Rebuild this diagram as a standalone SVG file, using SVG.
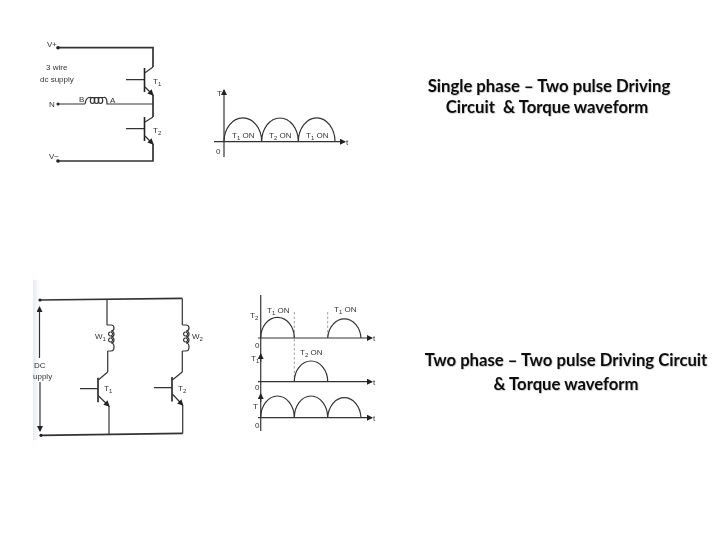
<svg xmlns="http://www.w3.org/2000/svg" width="720" height="540" viewBox="0 0 720 540">
<defs>
<filter id="soft" x="-5%" y="-5%" width="110%" height="110%"><feGaussianBlur stdDeviation="0.35"/></filter>
<filter id="shadow" x="-5%" y="-20%" width="110%" height="140%"><feDropShadow dx="0.6" dy="0.6" stdDeviation="0.6" flood-color="#000" flood-opacity="0.3"/></filter>
<linearGradient id="band" x1="0" x2="1" y1="0" y2="0"><stop offset="0" stop-color="#e6ebf1"/><stop offset="1" stop-color="#fff"/></linearGradient>
<marker id="ah" markerWidth="7" markerHeight="6" refX="5" refY="3" orient="auto" markerUnits="userSpaceOnUse"><path d="M0,0L6,3L0,6Z" fill="#222"/></marker>
</defs>
<style>
text{font-family:"Liberation Sans",Arial,sans-serif;fill:#333;font-size:8px}
.cap{font-family:Lato,"Open Sans",sans-serif;font-size:16.7px;font-weight:700;fill:#111;text-anchor:middle}
.w{fill:none;stroke:#333;stroke-width:1.2}
.h{fill:none;stroke:#333;stroke-width:1.7}
.ax{fill:none;stroke:#444;stroke-width:1.3}
.dash{fill:none;stroke:#777;stroke-width:.7;stroke-dasharray:2.5 2}
.bar{fill:none;stroke:#222;stroke-width:1.6}
.arr{fill:none;stroke:#333;stroke-width:1.2;marker-end:url(#ah)}
.dot{fill:#222}
.sub{font-size:6px}
</style>
<rect width="720" height="540" fill="#fff"/>
<rect x="33" y="280" width="7" height="160" fill="url(#band)"/>

<g filter="url(#soft)">
<g id="connectors">
<path class="h" d="M58,47.7H153V67"/>
<path class="w" d="M58,104H85M108,104H153"/>
<path class="h" d="M153,95V117"/>
<path class="h" d="M153,144V161H58"/>
<path class="h" d="M40,300L182.3,298.3"/>
<path class="h" d="M41,435.3L182.7,433.3"/>
<path class="w" d="M107,299V325M107.7,351V372"/>
<path class="w" d="M182.3,298.5V325M182.3,351V372"/>
<path class="w" d="M109,406V434"/>
<path class="w" d="M182.7,405V433.5"/>
<path class="arr" d="M39.5,358V307"/>
<path class="arr" d="M40,382V431"/>
</g>

<g id="single-phase-circuit">
<circle class="dot" cx="58" cy="47.7" r="1.8"/><circle class="dot" cx="58" cy="104" r="1.5"/><circle class="dot" cx="58" cy="161" r="1.8"/>
<text x="47" y="47">V+</text><text x="49" y="107">N</text><text x="49" y="159">V−</text>
<text x="46" y="70">3 wire</text><text x="40" y="82">dc supply</text>
<text x="79" y="102">B</text><text x="110" y="103">A</text>
<path class="w" d="M85,104C86,98 88,97 91,97.5H104C106,97 107,99 107,104H108"/>
<ellipse class="w" cx="92.5" cy="100.5" rx="2.2" ry="3"/><ellipse class="w" cx="96.5" cy="100.5" rx="2.2" ry="3"/><ellipse class="w" cx="100.5" cy="100.5" rx="2.2" ry="3"/>
</g>

<g id="transistor-t1-single">
<path class="bar" d="M144.5,68V92"/><path class="w" d="M126,79.7H144M145,72.7L153,67"/><path class="arr" d="M145,87L153,95"/>
<text x="153" y="84">T<tspan class="sub" dy="2">1</tspan></text>
</g>
<g id="transistor-t2-single">
<path class="bar" d="M144.5,117V141"/><path class="w" d="M126,128.7H144M145,122L153,117"/><path class="arr" d="M145,136L153,144"/>
<text x="153" y="133">T<tspan class="sub" dy="2">2</tspan></text>
</g>

<g id="single-phase-waveform">
<path class="arr" d="M224,157V90"/><path class="arr" d="M214,141.7H345"/>
<path class="w" d="M224,141.7A18.8,23.7 0 0 1 261.7,141.7A18.3,23.7 0 0 1 298.3,141.7A18.3,23.7 0 0 1 335,141.7"/>
<text x="217" y="96">T</text><text x="216" y="154">0</text><text x="346" y="145">t</text>
<text x="232" y="138">T<tspan class="sub" dy="2">1</tspan><tspan dy="-2"> ON</tspan></text>
<text x="269" y="138">T<tspan class="sub" dy="2">2</tspan><tspan dy="-2"> ON</tspan></text>
<text x="306" y="138">T<tspan class="sub" dy="2">1</tspan><tspan dy="-2"> ON</tspan></text>
</g>

<g id="two-phase-circuit">
<circle class="dot" cx="40" cy="300" r="1.6"/><circle class="dot" cx="41" cy="435.3" r="1.6"/>
<text x="34" y="368">DC</text><text x="33" y="379">upply</text>
</g>
<g id="winding-w1">
<path class="w" d="M107,325H111C115,325 115,331 111,331C115,331 115,337 111,337C115,337 115,343 111,343C115,343 115,351 111,351H107.7"/>
<path class="w" d="M110.5,332a2,2 0 1 0 .1,0M110.5,338a2,2 0 1 0 .1,0"/>
<text x="95" y="339">W<tspan class="sub" dy="2">1</tspan></text>
</g>
<g id="winding-w2">
<path class="w" d="M182.3,325H186C190,325 190,331 186,331C190,331 190,337 186,337C190,337 190,343 186,343C190,343 190,351 186,351H182.3"/>
<path class="w" d="M185.5,332a2,2 0 1 0 .1,0M185.5,338a2,2 0 1 0 .1,0"/>
<text x="192" y="339">W<tspan class="sub" dy="2">2</tspan></text>
</g>
<g id="transistor-t1-two">
<path class="bar" d="M98,377.7V402.3"/><path class="w" d="M80,388.7H98M98.3,380L107.7,372"/><path class="arr" d="M98.3,395.7L109,406"/>
<text x="104" y="391">T<tspan class="sub" dy="2">1</tspan></text>
</g>
<g id="transistor-t2-two">
<path class="bar" d="M172,377V401.5"/><path class="w" d="M154,387.7H172M172.3,380L182.3,372"/><path class="arr" d="M172.3,394L182.7,405"/>
<text x="178" y="391">T<tspan class="sub" dy="2">2</tspan></text>
</g>

<g id="two-phase-waveforms">
<path class="ax" d="M260.7,295V431"/>
<path class="arr" d="M260.7,362V354"/><path class="arr" d="M260.7,402V394"/>
<path class="arr" d="M258,338H372"/><path class="arr" d="M258,381.7H372"/><path class="arr" d="M258,417.7H372"/>
<path class="dash" d="M294.3,312V381M327.7,312V338"/>
<path class="w" d="M260.7,338A16.8,20.7 0 0 1 294.3,338M327.7,338A16.7,20.7 0 0 1 361,338"/>
<path class="w" d="M294.3,381.7A16.7,20.7 0 0 1 327.7,381.7"/>
<path class="w" d="M260.7,417.7A16.8,21.7 0 0 1 294.3,417.7A16.7,21.7 0 0 1 327.7,417.7A16.7,21.7 0 0 1 361,417.7"/>
<text x="250" y="318">T<tspan class="sub" dy="2">2</tspan></text>
<text x="251" y="361">T<tspan class="sub" dy="2">1</tspan></text>
<text x="253" y="409">T</text>
<text x="255" y="348">0</text><text x="255" y="390">0</text><text x="255" y="428">0</text>
<text x="373" y="341">t</text><text x="373" y="385">t</text><text x="373" y="421">t</text>
<text x="267" y="313">T<tspan class="sub" dy="2">1</tspan><tspan dy="-2"> ON</tspan></text>
<text x="334" y="312">T<tspan class="sub" dy="2">1</tspan><tspan dy="-2"> ON</tspan></text>
<text x="300" y="355">T<tspan class="sub" dy="2">2</tspan><tspan dy="-2"> ON</tspan></text>
</g>
</g>

<g id="captions" filter="url(#shadow)">
<text class="cap" x="549" y="92">Single phase – Two pulse Driving</text>
<text class="cap" x="547" y="113" xml:space="preserve">Circuit  &amp; Torque waveform</text>
<text class="cap" x="566" y="366">Two phase – Two pulse Driving Circuit</text>
<text class="cap" x="566" y="390">&amp; Torque waveform</text>
</g>
</svg>
